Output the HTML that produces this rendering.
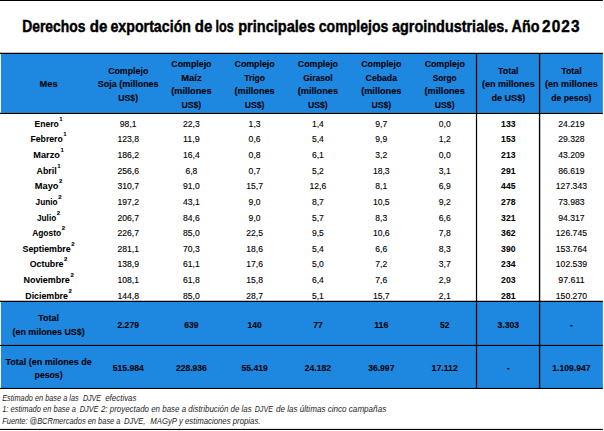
<!DOCTYPE html>
<html lang="es"><head><meta charset="utf-8"><title>Derechos de exportación</title>
<style>
html,body{margin:0;padding:0;background:#fff;}
body{width:604px;height:431px;overflow:hidden;}
svg{display:block;font-family:"Liberation Sans",sans-serif;}
</style></head><body>
<svg width="604" height="431" viewBox="0 0 604 431">
<rect x="0" y="0" width="604" height="431" fill="#fff"/>
<rect x="1.00" y="54.00" width="601.86" height="58.80" fill="#1e88e0"/>
<rect x="1.00" y="302.00" width="601.86" height="86.00" fill="#1e88e0"/>
<rect x="0.00" y="0.00" width="602.86" height="1.00" fill="#000"/>
<rect x="0.00" y="52.75" width="602.86" height="1.25" fill="#000"/>
<rect x="0.00" y="112.75" width="602.86" height="1.25" fill="#000"/>
<rect x="0.00" y="300.75" width="602.86" height="1.25" fill="#000"/>
<rect x="0.00" y="344.90" width="602.86" height="1.10" fill="#000"/>
<rect x="0.00" y="387.90" width="602.86" height="1.10" fill="#000"/>
<rect x="0.00" y="428.90" width="602.86" height="1.10" fill="#000"/>
<rect x="475.90" y="53.00" width="1.22" height="336.00" fill="#000"/>
<rect x="538.90" y="53.00" width="1.35" height="336.00" fill="#000"/>
<text y="32" font-size="17.1" font-weight="bold" fill="#000" stroke="#000" stroke-width="0.45"><tspan x="22.20" textLength="63.30" lengthAdjust="spacingAndGlyphs">Derechos</tspan> <tspan x="89.70" textLength="17.60" lengthAdjust="spacingAndGlyphs">de</tspan> <tspan x="110.45" textLength="80.55" lengthAdjust="spacingAndGlyphs">exportación</tspan> <tspan x="194.75" textLength="17.50" lengthAdjust="spacingAndGlyphs">de</tspan> <tspan x="215.40" textLength="18.30" lengthAdjust="spacingAndGlyphs">los</tspan> <tspan x="238.20" textLength="76.85" lengthAdjust="spacingAndGlyphs">principales</tspan> <tspan x="318.80" textLength="69.50" lengthAdjust="spacingAndGlyphs">complejos</tspan> <tspan x="392.05" textLength="116.15" lengthAdjust="spacingAndGlyphs">agroindustriales.</tspan> <tspan x="511.60" textLength="27.95" lengthAdjust="spacingAndGlyphs">Año</tspan></text>
<text transform="translate(542.0,32) scale(0.9,1)" font-size="17.1" font-weight="bold" fill="#000" stroke="#000" stroke-width="0.45" letter-spacing="1.25">2023</text>
<text x="48.60" y="87.00" font-size="9.13" font-weight="bold" text-anchor="middle" textLength="18.01" lengthAdjust="spacingAndGlyphs" fill="#000208" stroke="#000208" stroke-width="0.1">Mes</text>
<text x="128.20" y="74.00" font-size="9.13" font-weight="bold" text-anchor="middle" textLength="40.14" lengthAdjust="spacingAndGlyphs" fill="#000208" stroke="#000208" stroke-width="0.1">Complejo</text>
<text x="128.20" y="87.00" font-size="9.13" font-weight="bold" text-anchor="middle" textLength="60.83" lengthAdjust="spacingAndGlyphs" fill="#000208" stroke="#000208" stroke-width="0.1">Soja (millones</text>
<text x="128.20" y="101.00" font-size="9.13" font-weight="bold" text-anchor="middle" textLength="19.71" lengthAdjust="spacingAndGlyphs" fill="#000208" stroke="#000208" stroke-width="0.1">US$)</text>
<text x="191.40" y="67.00" font-size="9.13" font-weight="bold" text-anchor="middle" textLength="40.14" lengthAdjust="spacingAndGlyphs" fill="#000208" stroke="#000208" stroke-width="0.1">Complejo</text>
<text x="191.40" y="81.00" font-size="9.13" font-weight="bold" text-anchor="middle" textLength="20.39" lengthAdjust="spacingAndGlyphs" fill="#000208" stroke="#000208" stroke-width="0.1">Maíz</text>
<text x="191.40" y="94.00" font-size="9.13" font-weight="bold" text-anchor="middle" textLength="40.28" lengthAdjust="spacingAndGlyphs" fill="#000208" stroke="#000208" stroke-width="0.1">(millones</text>
<text x="191.40" y="108.00" font-size="9.13" font-weight="bold" text-anchor="middle" textLength="19.71" lengthAdjust="spacingAndGlyphs" fill="#000208" stroke="#000208" stroke-width="0.1">US$)</text>
<text x="254.60" y="67.00" font-size="9.13" font-weight="bold" text-anchor="middle" textLength="40.14" lengthAdjust="spacingAndGlyphs" fill="#000208" stroke="#000208" stroke-width="0.1">Complejo</text>
<text x="254.60" y="81.00" font-size="9.13" font-weight="bold" text-anchor="middle" textLength="20.76" lengthAdjust="spacingAndGlyphs" fill="#000208" stroke="#000208" stroke-width="0.1">Trigo</text>
<text x="254.60" y="94.00" font-size="9.13" font-weight="bold" text-anchor="middle" textLength="40.28" lengthAdjust="spacingAndGlyphs" fill="#000208" stroke="#000208" stroke-width="0.1">(millones</text>
<text x="254.60" y="108.00" font-size="9.13" font-weight="bold" text-anchor="middle" textLength="19.71" lengthAdjust="spacingAndGlyphs" fill="#000208" stroke="#000208" stroke-width="0.1">US$)</text>
<text x="317.90" y="67.00" font-size="9.13" font-weight="bold" text-anchor="middle" textLength="40.14" lengthAdjust="spacingAndGlyphs" fill="#000208" stroke="#000208" stroke-width="0.1">Complejo</text>
<text x="317.90" y="81.00" font-size="9.13" font-weight="bold" text-anchor="middle" textLength="29.33" lengthAdjust="spacingAndGlyphs" fill="#000208" stroke="#000208" stroke-width="0.1">Girasol</text>
<text x="317.90" y="94.00" font-size="9.13" font-weight="bold" text-anchor="middle" textLength="40.28" lengthAdjust="spacingAndGlyphs" fill="#000208" stroke="#000208" stroke-width="0.1">(millones</text>
<text x="317.90" y="108.00" font-size="9.13" font-weight="bold" text-anchor="middle" textLength="19.71" lengthAdjust="spacingAndGlyphs" fill="#000208" stroke="#000208" stroke-width="0.1">US$)</text>
<text x="381.30" y="67.00" font-size="9.13" font-weight="bold" text-anchor="middle" textLength="40.14" lengthAdjust="spacingAndGlyphs" fill="#000208" stroke="#000208" stroke-width="0.1">Complejo</text>
<text x="381.30" y="81.00" font-size="9.13" font-weight="bold" text-anchor="middle" textLength="31.37" lengthAdjust="spacingAndGlyphs" fill="#000208" stroke="#000208" stroke-width="0.1">Cebada</text>
<text x="381.30" y="94.00" font-size="9.13" font-weight="bold" text-anchor="middle" textLength="40.28" lengthAdjust="spacingAndGlyphs" fill="#000208" stroke="#000208" stroke-width="0.1">(millones</text>
<text x="381.30" y="108.00" font-size="9.13" font-weight="bold" text-anchor="middle" textLength="19.71" lengthAdjust="spacingAndGlyphs" fill="#000208" stroke="#000208" stroke-width="0.1">US$)</text>
<text x="444.70" y="67.00" font-size="9.13" font-weight="bold" text-anchor="middle" textLength="40.14" lengthAdjust="spacingAndGlyphs" fill="#000208" stroke="#000208" stroke-width="0.1">Complejo</text>
<text x="444.70" y="81.00" font-size="9.13" font-weight="bold" text-anchor="middle" textLength="23.89" lengthAdjust="spacingAndGlyphs" fill="#000208" stroke="#000208" stroke-width="0.1">Sorgo</text>
<text x="444.70" y="94.00" font-size="9.13" font-weight="bold" text-anchor="middle" textLength="40.28" lengthAdjust="spacingAndGlyphs" fill="#000208" stroke="#000208" stroke-width="0.1">(millones</text>
<text x="444.70" y="108.00" font-size="9.13" font-weight="bold" text-anchor="middle" textLength="19.71" lengthAdjust="spacingAndGlyphs" fill="#000208" stroke="#000208" stroke-width="0.1">US$)</text>
<text x="508.30" y="74.00" font-size="9.13" font-weight="bold" text-anchor="middle" textLength="20.51" lengthAdjust="spacingAndGlyphs" fill="#000208" stroke="#000208" stroke-width="0.1">Total</text>
<text x="508.30" y="87.00" font-size="9.13" font-weight="bold" text-anchor="middle" textLength="52.80" lengthAdjust="spacingAndGlyphs" fill="#000208" stroke="#000208" stroke-width="0.1">(en millones</text>
<text x="508.30" y="101.00" font-size="9.13" font-weight="bold" text-anchor="middle" textLength="33.85" lengthAdjust="spacingAndGlyphs" fill="#000208" stroke="#000208" stroke-width="0.1">de US$)</text>
<text x="571.40" y="74.00" font-size="9.13" font-weight="bold" text-anchor="middle" textLength="20.51" lengthAdjust="spacingAndGlyphs" fill="#000208" stroke="#000208" stroke-width="0.1">Total</text>
<text x="571.40" y="87.00" font-size="9.13" font-weight="bold" text-anchor="middle" textLength="52.80" lengthAdjust="spacingAndGlyphs" fill="#000208" stroke="#000208" stroke-width="0.1">(en millones</text>
<text x="571.40" y="101.00" font-size="9.13" font-weight="bold" text-anchor="middle" textLength="40.09" lengthAdjust="spacingAndGlyphs" fill="#000208" stroke="#000208" stroke-width="0.1">de pesos)</text>
<text x="34.51" y="127.00" font-size="8.42" font-weight="bold" text-anchor="start" textLength="24.24" lengthAdjust="spacingAndGlyphs" fill="#000" stroke="#000" stroke-width="0.06">Enero</text>
<text x="59.35" y="121.00" font-size="5.94" font-weight="bold" text-anchor="start" textLength="3.35" lengthAdjust="spacingAndGlyphs" fill="#000" stroke="#000" stroke-width="0.06">1</text>
<text x="128.20" y="127.00" font-size="8.42" font-weight="normal" text-anchor="middle" textLength="16.73" lengthAdjust="spacingAndGlyphs" fill="#000" stroke="#000" stroke-width="0.12">98,1</text>
<text x="191.40" y="127.00" font-size="8.42" font-weight="normal" text-anchor="middle" textLength="16.73" lengthAdjust="spacingAndGlyphs" fill="#000" stroke="#000" stroke-width="0.12">22,3</text>
<text x="254.60" y="127.00" font-size="8.42" font-weight="normal" text-anchor="middle" textLength="11.94" lengthAdjust="spacingAndGlyphs" fill="#000" stroke="#000" stroke-width="0.12">1,3</text>
<text x="317.90" y="127.00" font-size="8.42" font-weight="normal" text-anchor="middle" textLength="11.94" lengthAdjust="spacingAndGlyphs" fill="#000" stroke="#000" stroke-width="0.12">1,4</text>
<text x="381.30" y="127.00" font-size="8.42" font-weight="normal" text-anchor="middle" textLength="11.94" lengthAdjust="spacingAndGlyphs" fill="#000" stroke="#000" stroke-width="0.12">9,7</text>
<text x="444.70" y="127.00" font-size="8.42" font-weight="normal" text-anchor="middle" textLength="11.94" lengthAdjust="spacingAndGlyphs" fill="#000" stroke="#000" stroke-width="0.12">0,0</text>
<text x="508.30" y="127.00" font-size="8.42" font-weight="bold" text-anchor="middle" textLength="14.38" lengthAdjust="spacingAndGlyphs" fill="#000" stroke="#000" stroke-width="0.06">133</text>
<text x="571.40" y="127.00" font-size="8.42" font-weight="normal" text-anchor="middle" textLength="26.35" lengthAdjust="spacingAndGlyphs" fill="#000" stroke="#000" stroke-width="0.12">24.219</text>
<text x="30.46" y="142.00" font-size="8.42" font-weight="bold" text-anchor="start" textLength="32.33" lengthAdjust="spacingAndGlyphs" fill="#000" stroke="#000" stroke-width="0.06">Febrero</text>
<text x="63.39" y="136.00" font-size="5.94" font-weight="bold" text-anchor="start" textLength="3.35" lengthAdjust="spacingAndGlyphs" fill="#000" stroke="#000" stroke-width="0.06">1</text>
<text x="128.20" y="142.00" font-size="8.42" font-weight="normal" text-anchor="middle" textLength="21.53" lengthAdjust="spacingAndGlyphs" fill="#000" stroke="#000" stroke-width="0.12">123,8</text>
<text x="191.40" y="142.00" font-size="8.42" font-weight="normal" text-anchor="middle" textLength="16.73" lengthAdjust="spacingAndGlyphs" fill="#000" stroke="#000" stroke-width="0.12">11,9</text>
<text x="254.60" y="142.00" font-size="8.42" font-weight="normal" text-anchor="middle" textLength="11.94" lengthAdjust="spacingAndGlyphs" fill="#000" stroke="#000" stroke-width="0.12">0,6</text>
<text x="317.90" y="142.00" font-size="8.42" font-weight="normal" text-anchor="middle" textLength="11.94" lengthAdjust="spacingAndGlyphs" fill="#000" stroke="#000" stroke-width="0.12">5,4</text>
<text x="381.30" y="142.00" font-size="8.42" font-weight="normal" text-anchor="middle" textLength="11.94" lengthAdjust="spacingAndGlyphs" fill="#000" stroke="#000" stroke-width="0.12">9,9</text>
<text x="444.70" y="142.00" font-size="8.42" font-weight="normal" text-anchor="middle" textLength="11.94" lengthAdjust="spacingAndGlyphs" fill="#000" stroke="#000" stroke-width="0.12">1,2</text>
<text x="508.30" y="142.00" font-size="8.42" font-weight="bold" text-anchor="middle" textLength="14.38" lengthAdjust="spacingAndGlyphs" fill="#000" stroke="#000" stroke-width="0.06">153</text>
<text x="571.40" y="142.00" font-size="8.42" font-weight="normal" text-anchor="middle" textLength="26.35" lengthAdjust="spacingAndGlyphs" fill="#000" stroke="#000" stroke-width="0.12">29.328</text>
<text x="33.34" y="158.00" font-size="8.42" font-weight="bold" text-anchor="start" textLength="26.58" lengthAdjust="spacingAndGlyphs" fill="#000" stroke="#000" stroke-width="0.06">Marzo</text>
<text x="60.52" y="152.00" font-size="5.94" font-weight="bold" text-anchor="start" textLength="3.35" lengthAdjust="spacingAndGlyphs" fill="#000" stroke="#000" stroke-width="0.06">1</text>
<text x="128.20" y="158.00" font-size="8.42" font-weight="normal" text-anchor="middle" textLength="21.53" lengthAdjust="spacingAndGlyphs" fill="#000" stroke="#000" stroke-width="0.12">186,2</text>
<text x="191.40" y="158.00" font-size="8.42" font-weight="normal" text-anchor="middle" textLength="16.73" lengthAdjust="spacingAndGlyphs" fill="#000" stroke="#000" stroke-width="0.12">16,4</text>
<text x="254.60" y="158.00" font-size="8.42" font-weight="normal" text-anchor="middle" textLength="11.94" lengthAdjust="spacingAndGlyphs" fill="#000" stroke="#000" stroke-width="0.12">0,8</text>
<text x="317.90" y="158.00" font-size="8.42" font-weight="normal" text-anchor="middle" textLength="11.94" lengthAdjust="spacingAndGlyphs" fill="#000" stroke="#000" stroke-width="0.12">6,1</text>
<text x="381.30" y="158.00" font-size="8.42" font-weight="normal" text-anchor="middle" textLength="11.94" lengthAdjust="spacingAndGlyphs" fill="#000" stroke="#000" stroke-width="0.12">3,2</text>
<text x="444.70" y="158.00" font-size="8.42" font-weight="normal" text-anchor="middle" textLength="11.94" lengthAdjust="spacingAndGlyphs" fill="#000" stroke="#000" stroke-width="0.12">0,0</text>
<text x="508.30" y="158.00" font-size="8.42" font-weight="bold" text-anchor="middle" textLength="14.38" lengthAdjust="spacingAndGlyphs" fill="#000" stroke="#000" stroke-width="0.06">213</text>
<text x="571.40" y="158.00" font-size="8.42" font-weight="normal" text-anchor="middle" textLength="26.35" lengthAdjust="spacingAndGlyphs" fill="#000" stroke="#000" stroke-width="0.12">43.209</text>
<text x="36.62" y="174.00" font-size="8.42" font-weight="bold" text-anchor="start" textLength="20.02" lengthAdjust="spacingAndGlyphs" fill="#000" stroke="#000" stroke-width="0.06">Abril</text>
<text x="57.24" y="168.00" font-size="5.94" font-weight="bold" text-anchor="start" textLength="3.35" lengthAdjust="spacingAndGlyphs" fill="#000" stroke="#000" stroke-width="0.06">1</text>
<text x="128.20" y="174.00" font-size="8.42" font-weight="normal" text-anchor="middle" textLength="21.53" lengthAdjust="spacingAndGlyphs" fill="#000" stroke="#000" stroke-width="0.12">256,6</text>
<text x="191.40" y="174.00" font-size="8.42" font-weight="normal" text-anchor="middle" textLength="11.94" lengthAdjust="spacingAndGlyphs" fill="#000" stroke="#000" stroke-width="0.12">6,8</text>
<text x="254.60" y="174.00" font-size="8.42" font-weight="normal" text-anchor="middle" textLength="11.94" lengthAdjust="spacingAndGlyphs" fill="#000" stroke="#000" stroke-width="0.12">0,7</text>
<text x="317.90" y="174.00" font-size="8.42" font-weight="normal" text-anchor="middle" textLength="11.94" lengthAdjust="spacingAndGlyphs" fill="#000" stroke="#000" stroke-width="0.12">5,2</text>
<text x="381.30" y="174.00" font-size="8.42" font-weight="normal" text-anchor="middle" textLength="16.73" lengthAdjust="spacingAndGlyphs" fill="#000" stroke="#000" stroke-width="0.12">18,3</text>
<text x="444.70" y="174.00" font-size="8.42" font-weight="normal" text-anchor="middle" textLength="11.94" lengthAdjust="spacingAndGlyphs" fill="#000" stroke="#000" stroke-width="0.12">3,1</text>
<text x="508.30" y="174.00" font-size="8.42" font-weight="bold" text-anchor="middle" textLength="14.38" lengthAdjust="spacingAndGlyphs" fill="#000" stroke="#000" stroke-width="0.06">291</text>
<text x="571.40" y="174.00" font-size="8.42" font-weight="normal" text-anchor="middle" textLength="26.35" lengthAdjust="spacingAndGlyphs" fill="#000" stroke="#000" stroke-width="0.12">86.619</text>
<text x="34.80" y="189.00" font-size="8.42" font-weight="bold" text-anchor="start" textLength="23.65" lengthAdjust="spacingAndGlyphs" fill="#000" stroke="#000" stroke-width="0.06">Mayo</text>
<text x="59.05" y="183.00" font-size="5.94" font-weight="bold" text-anchor="start" textLength="3.35" lengthAdjust="spacingAndGlyphs" fill="#000" stroke="#000" stroke-width="0.06">2</text>
<text x="128.20" y="189.00" font-size="8.42" font-weight="normal" text-anchor="middle" textLength="21.53" lengthAdjust="spacingAndGlyphs" fill="#000" stroke="#000" stroke-width="0.12">310,7</text>
<text x="191.40" y="189.00" font-size="8.42" font-weight="normal" text-anchor="middle" textLength="16.73" lengthAdjust="spacingAndGlyphs" fill="#000" stroke="#000" stroke-width="0.12">91,0</text>
<text x="254.60" y="189.00" font-size="8.42" font-weight="normal" text-anchor="middle" textLength="16.73" lengthAdjust="spacingAndGlyphs" fill="#000" stroke="#000" stroke-width="0.12">15,7</text>
<text x="317.90" y="189.00" font-size="8.42" font-weight="normal" text-anchor="middle" textLength="16.73" lengthAdjust="spacingAndGlyphs" fill="#000" stroke="#000" stroke-width="0.12">12,6</text>
<text x="381.30" y="189.00" font-size="8.42" font-weight="normal" text-anchor="middle" textLength="11.94" lengthAdjust="spacingAndGlyphs" fill="#000" stroke="#000" stroke-width="0.12">8,1</text>
<text x="444.70" y="189.00" font-size="8.42" font-weight="normal" text-anchor="middle" textLength="11.94" lengthAdjust="spacingAndGlyphs" fill="#000" stroke="#000" stroke-width="0.12">6,9</text>
<text x="508.30" y="189.00" font-size="8.42" font-weight="bold" text-anchor="middle" textLength="14.38" lengthAdjust="spacingAndGlyphs" fill="#000" stroke="#000" stroke-width="0.06">445</text>
<text x="571.40" y="189.00" font-size="8.42" font-weight="normal" text-anchor="middle" textLength="31.14" lengthAdjust="spacingAndGlyphs" fill="#000" stroke="#000" stroke-width="0.12">127.343</text>
<text x="35.62" y="205.00" font-size="8.42" font-weight="bold" text-anchor="start" textLength="22.01" lengthAdjust="spacingAndGlyphs" fill="#000" stroke="#000" stroke-width="0.06">Junio</text>
<text x="58.23" y="199.00" font-size="5.94" font-weight="bold" text-anchor="start" textLength="3.35" lengthAdjust="spacingAndGlyphs" fill="#000" stroke="#000" stroke-width="0.06">2</text>
<text x="128.20" y="205.00" font-size="8.42" font-weight="normal" text-anchor="middle" textLength="21.53" lengthAdjust="spacingAndGlyphs" fill="#000" stroke="#000" stroke-width="0.12">197,2</text>
<text x="191.40" y="205.00" font-size="8.42" font-weight="normal" text-anchor="middle" textLength="16.73" lengthAdjust="spacingAndGlyphs" fill="#000" stroke="#000" stroke-width="0.12">43,1</text>
<text x="254.60" y="205.00" font-size="8.42" font-weight="normal" text-anchor="middle" textLength="11.94" lengthAdjust="spacingAndGlyphs" fill="#000" stroke="#000" stroke-width="0.12">9,0</text>
<text x="317.90" y="205.00" font-size="8.42" font-weight="normal" text-anchor="middle" textLength="11.94" lengthAdjust="spacingAndGlyphs" fill="#000" stroke="#000" stroke-width="0.12">8,7</text>
<text x="381.30" y="205.00" font-size="8.42" font-weight="normal" text-anchor="middle" textLength="16.73" lengthAdjust="spacingAndGlyphs" fill="#000" stroke="#000" stroke-width="0.12">10,5</text>
<text x="444.70" y="205.00" font-size="8.42" font-weight="normal" text-anchor="middle" textLength="11.94" lengthAdjust="spacingAndGlyphs" fill="#000" stroke="#000" stroke-width="0.12">9,2</text>
<text x="508.30" y="205.00" font-size="8.42" font-weight="bold" text-anchor="middle" textLength="14.38" lengthAdjust="spacingAndGlyphs" fill="#000" stroke="#000" stroke-width="0.06">278</text>
<text x="571.40" y="205.00" font-size="8.42" font-weight="normal" text-anchor="middle" textLength="26.35" lengthAdjust="spacingAndGlyphs" fill="#000" stroke="#000" stroke-width="0.12">73.983</text>
<text x="37.09" y="221.00" font-size="8.42" font-weight="bold" text-anchor="start" textLength="19.08" lengthAdjust="spacingAndGlyphs" fill="#000" stroke="#000" stroke-width="0.06">Julio</text>
<text x="56.77" y="215.00" font-size="5.94" font-weight="bold" text-anchor="start" textLength="3.35" lengthAdjust="spacingAndGlyphs" fill="#000" stroke="#000" stroke-width="0.06">2</text>
<text x="128.20" y="221.00" font-size="8.42" font-weight="normal" text-anchor="middle" textLength="21.53" lengthAdjust="spacingAndGlyphs" fill="#000" stroke="#000" stroke-width="0.12">206,7</text>
<text x="191.40" y="221.00" font-size="8.42" font-weight="normal" text-anchor="middle" textLength="16.73" lengthAdjust="spacingAndGlyphs" fill="#000" stroke="#000" stroke-width="0.12">84,6</text>
<text x="254.60" y="221.00" font-size="8.42" font-weight="normal" text-anchor="middle" textLength="11.94" lengthAdjust="spacingAndGlyphs" fill="#000" stroke="#000" stroke-width="0.12">9,0</text>
<text x="317.90" y="221.00" font-size="8.42" font-weight="normal" text-anchor="middle" textLength="11.94" lengthAdjust="spacingAndGlyphs" fill="#000" stroke="#000" stroke-width="0.12">5,7</text>
<text x="381.30" y="221.00" font-size="8.42" font-weight="normal" text-anchor="middle" textLength="11.94" lengthAdjust="spacingAndGlyphs" fill="#000" stroke="#000" stroke-width="0.12">8,3</text>
<text x="444.70" y="221.00" font-size="8.42" font-weight="normal" text-anchor="middle" textLength="11.94" lengthAdjust="spacingAndGlyphs" fill="#000" stroke="#000" stroke-width="0.12">6,6</text>
<text x="508.30" y="221.00" font-size="8.42" font-weight="bold" text-anchor="middle" textLength="14.38" lengthAdjust="spacingAndGlyphs" fill="#000" stroke="#000" stroke-width="0.06">321</text>
<text x="571.40" y="221.00" font-size="8.42" font-weight="normal" text-anchor="middle" textLength="26.35" lengthAdjust="spacingAndGlyphs" fill="#000" stroke="#000" stroke-width="0.12">94.317</text>
<text x="32.19" y="236.00" font-size="8.42" font-weight="bold" text-anchor="start" textLength="28.88" lengthAdjust="spacingAndGlyphs" fill="#000" stroke="#000" stroke-width="0.06">Agosto</text>
<text x="61.67" y="230.00" font-size="5.94" font-weight="bold" text-anchor="start" textLength="3.35" lengthAdjust="spacingAndGlyphs" fill="#000" stroke="#000" stroke-width="0.06">2</text>
<text x="128.20" y="236.00" font-size="8.42" font-weight="normal" text-anchor="middle" textLength="21.53" lengthAdjust="spacingAndGlyphs" fill="#000" stroke="#000" stroke-width="0.12">226,7</text>
<text x="191.40" y="236.00" font-size="8.42" font-weight="normal" text-anchor="middle" textLength="16.73" lengthAdjust="spacingAndGlyphs" fill="#000" stroke="#000" stroke-width="0.12">85,0</text>
<text x="254.60" y="236.00" font-size="8.42" font-weight="normal" text-anchor="middle" textLength="16.73" lengthAdjust="spacingAndGlyphs" fill="#000" stroke="#000" stroke-width="0.12">22,5</text>
<text x="317.90" y="236.00" font-size="8.42" font-weight="normal" text-anchor="middle" textLength="11.94" lengthAdjust="spacingAndGlyphs" fill="#000" stroke="#000" stroke-width="0.12">9,5</text>
<text x="381.30" y="236.00" font-size="8.42" font-weight="normal" text-anchor="middle" textLength="16.73" lengthAdjust="spacingAndGlyphs" fill="#000" stroke="#000" stroke-width="0.12">10,6</text>
<text x="444.70" y="236.00" font-size="8.42" font-weight="normal" text-anchor="middle" textLength="11.94" lengthAdjust="spacingAndGlyphs" fill="#000" stroke="#000" stroke-width="0.12">7,8</text>
<text x="508.30" y="236.00" font-size="8.42" font-weight="bold" text-anchor="middle" textLength="14.38" lengthAdjust="spacingAndGlyphs" fill="#000" stroke="#000" stroke-width="0.06">362</text>
<text x="571.40" y="236.00" font-size="8.42" font-weight="normal" text-anchor="middle" textLength="31.14" lengthAdjust="spacingAndGlyphs" fill="#000" stroke="#000" stroke-width="0.12">126.745</text>
<text x="22.50" y="252.00" font-size="8.42" font-weight="bold" text-anchor="start" textLength="48.25" lengthAdjust="spacingAndGlyphs" fill="#000" stroke="#000" stroke-width="0.06">Septiembre</text>
<text x="71.35" y="246.00" font-size="5.94" font-weight="bold" text-anchor="start" textLength="3.35" lengthAdjust="spacingAndGlyphs" fill="#000" stroke="#000" stroke-width="0.06">2</text>
<text x="128.20" y="252.00" font-size="8.42" font-weight="normal" text-anchor="middle" textLength="21.53" lengthAdjust="spacingAndGlyphs" fill="#000" stroke="#000" stroke-width="0.12">281,1</text>
<text x="191.40" y="252.00" font-size="8.42" font-weight="normal" text-anchor="middle" textLength="16.73" lengthAdjust="spacingAndGlyphs" fill="#000" stroke="#000" stroke-width="0.12">70,3</text>
<text x="254.60" y="252.00" font-size="8.42" font-weight="normal" text-anchor="middle" textLength="16.73" lengthAdjust="spacingAndGlyphs" fill="#000" stroke="#000" stroke-width="0.12">18,6</text>
<text x="317.90" y="252.00" font-size="8.42" font-weight="normal" text-anchor="middle" textLength="11.94" lengthAdjust="spacingAndGlyphs" fill="#000" stroke="#000" stroke-width="0.12">5,4</text>
<text x="381.30" y="252.00" font-size="8.42" font-weight="normal" text-anchor="middle" textLength="11.94" lengthAdjust="spacingAndGlyphs" fill="#000" stroke="#000" stroke-width="0.12">6,6</text>
<text x="444.70" y="252.00" font-size="8.42" font-weight="normal" text-anchor="middle" textLength="11.94" lengthAdjust="spacingAndGlyphs" fill="#000" stroke="#000" stroke-width="0.12">8,3</text>
<text x="508.30" y="252.00" font-size="8.42" font-weight="bold" text-anchor="middle" textLength="14.38" lengthAdjust="spacingAndGlyphs" fill="#000" stroke="#000" stroke-width="0.06">390</text>
<text x="571.40" y="252.00" font-size="8.42" font-weight="normal" text-anchor="middle" textLength="31.14" lengthAdjust="spacingAndGlyphs" fill="#000" stroke="#000" stroke-width="0.12">153.764</text>
<text x="29.71" y="267.00" font-size="8.42" font-weight="bold" text-anchor="start" textLength="33.83" lengthAdjust="spacingAndGlyphs" fill="#000" stroke="#000" stroke-width="0.06">Octubre</text>
<text x="64.14" y="261.00" font-size="5.94" font-weight="bold" text-anchor="start" textLength="3.35" lengthAdjust="spacingAndGlyphs" fill="#000" stroke="#000" stroke-width="0.06">2</text>
<text x="128.20" y="267.00" font-size="8.42" font-weight="normal" text-anchor="middle" textLength="21.53" lengthAdjust="spacingAndGlyphs" fill="#000" stroke="#000" stroke-width="0.12">138,9</text>
<text x="191.40" y="267.00" font-size="8.42" font-weight="normal" text-anchor="middle" textLength="16.73" lengthAdjust="spacingAndGlyphs" fill="#000" stroke="#000" stroke-width="0.12">61,1</text>
<text x="254.60" y="267.00" font-size="8.42" font-weight="normal" text-anchor="middle" textLength="16.73" lengthAdjust="spacingAndGlyphs" fill="#000" stroke="#000" stroke-width="0.12">17,6</text>
<text x="317.90" y="267.00" font-size="8.42" font-weight="normal" text-anchor="middle" textLength="11.94" lengthAdjust="spacingAndGlyphs" fill="#000" stroke="#000" stroke-width="0.12">5,0</text>
<text x="381.30" y="267.00" font-size="8.42" font-weight="normal" text-anchor="middle" textLength="11.94" lengthAdjust="spacingAndGlyphs" fill="#000" stroke="#000" stroke-width="0.12">7,2</text>
<text x="444.70" y="267.00" font-size="8.42" font-weight="normal" text-anchor="middle" textLength="11.94" lengthAdjust="spacingAndGlyphs" fill="#000" stroke="#000" stroke-width="0.12">3,7</text>
<text x="508.30" y="267.00" font-size="8.42" font-weight="bold" text-anchor="middle" textLength="14.38" lengthAdjust="spacingAndGlyphs" fill="#000" stroke="#000" stroke-width="0.06">234</text>
<text x="571.40" y="267.00" font-size="8.42" font-weight="normal" text-anchor="middle" textLength="31.14" lengthAdjust="spacingAndGlyphs" fill="#000" stroke="#000" stroke-width="0.12">102.539</text>
<text x="23.42" y="283.00" font-size="8.42" font-weight="bold" text-anchor="start" textLength="46.42" lengthAdjust="spacingAndGlyphs" fill="#000" stroke="#000" stroke-width="0.06">Noviembre</text>
<text x="70.44" y="277.00" font-size="5.94" font-weight="bold" text-anchor="start" textLength="3.35" lengthAdjust="spacingAndGlyphs" fill="#000" stroke="#000" stroke-width="0.06">2</text>
<text x="128.20" y="283.00" font-size="8.42" font-weight="normal" text-anchor="middle" textLength="21.53" lengthAdjust="spacingAndGlyphs" fill="#000" stroke="#000" stroke-width="0.12">108,1</text>
<text x="191.40" y="283.00" font-size="8.42" font-weight="normal" text-anchor="middle" textLength="16.73" lengthAdjust="spacingAndGlyphs" fill="#000" stroke="#000" stroke-width="0.12">61,8</text>
<text x="254.60" y="283.00" font-size="8.42" font-weight="normal" text-anchor="middle" textLength="16.73" lengthAdjust="spacingAndGlyphs" fill="#000" stroke="#000" stroke-width="0.12">15,8</text>
<text x="317.90" y="283.00" font-size="8.42" font-weight="normal" text-anchor="middle" textLength="11.94" lengthAdjust="spacingAndGlyphs" fill="#000" stroke="#000" stroke-width="0.12">6,4</text>
<text x="381.30" y="283.00" font-size="8.42" font-weight="normal" text-anchor="middle" textLength="11.94" lengthAdjust="spacingAndGlyphs" fill="#000" stroke="#000" stroke-width="0.12">7,6</text>
<text x="444.70" y="283.00" font-size="8.42" font-weight="normal" text-anchor="middle" textLength="11.94" lengthAdjust="spacingAndGlyphs" fill="#000" stroke="#000" stroke-width="0.12">2,9</text>
<text x="508.30" y="283.00" font-size="8.42" font-weight="bold" text-anchor="middle" textLength="14.38" lengthAdjust="spacingAndGlyphs" fill="#000" stroke="#000" stroke-width="0.06">203</text>
<text x="571.40" y="283.00" font-size="8.42" font-weight="normal" text-anchor="middle" textLength="26.35" lengthAdjust="spacingAndGlyphs" fill="#000" stroke="#000" stroke-width="0.12">97.611</text>
<text x="25.29" y="299.00" font-size="8.42" font-weight="bold" text-anchor="start" textLength="42.68" lengthAdjust="spacingAndGlyphs" fill="#000" stroke="#000" stroke-width="0.06">Diciembre</text>
<text x="68.57" y="293.00" font-size="5.94" font-weight="bold" text-anchor="start" textLength="3.35" lengthAdjust="spacingAndGlyphs" fill="#000" stroke="#000" stroke-width="0.06">2</text>
<text x="128.20" y="299.00" font-size="8.42" font-weight="normal" text-anchor="middle" textLength="21.53" lengthAdjust="spacingAndGlyphs" fill="#000" stroke="#000" stroke-width="0.12">144,8</text>
<text x="191.40" y="299.00" font-size="8.42" font-weight="normal" text-anchor="middle" textLength="16.73" lengthAdjust="spacingAndGlyphs" fill="#000" stroke="#000" stroke-width="0.12">85,0</text>
<text x="254.60" y="299.00" font-size="8.42" font-weight="normal" text-anchor="middle" textLength="16.73" lengthAdjust="spacingAndGlyphs" fill="#000" stroke="#000" stroke-width="0.12">28,7</text>
<text x="317.90" y="299.00" font-size="8.42" font-weight="normal" text-anchor="middle" textLength="11.94" lengthAdjust="spacingAndGlyphs" fill="#000" stroke="#000" stroke-width="0.12">5,1</text>
<text x="381.30" y="299.00" font-size="8.42" font-weight="normal" text-anchor="middle" textLength="16.73" lengthAdjust="spacingAndGlyphs" fill="#000" stroke="#000" stroke-width="0.12">15,7</text>
<text x="444.70" y="299.00" font-size="8.42" font-weight="normal" text-anchor="middle" textLength="11.94" lengthAdjust="spacingAndGlyphs" fill="#000" stroke="#000" stroke-width="0.12">2,1</text>
<text x="508.30" y="299.00" font-size="8.42" font-weight="bold" text-anchor="middle" textLength="14.38" lengthAdjust="spacingAndGlyphs" fill="#000" stroke="#000" stroke-width="0.06">281</text>
<text x="571.40" y="299.00" font-size="8.42" font-weight="normal" text-anchor="middle" textLength="31.14" lengthAdjust="spacingAndGlyphs" fill="#000" stroke="#000" stroke-width="0.12">150.270</text>
<text x="48.60" y="321.00" font-size="9.13" font-weight="bold" text-anchor="middle" textLength="20.51" lengthAdjust="spacingAndGlyphs" fill="#000208" stroke="#000208" stroke-width="0.1">Total</text>
<text x="48.60" y="335.00" font-size="9.13" font-weight="bold" text-anchor="middle" textLength="72.13" lengthAdjust="spacingAndGlyphs" fill="#000208" stroke="#000208" stroke-width="0.1">(en milones US$)</text>
<text x="48.60" y="365.00" font-size="9.13" font-weight="bold" text-anchor="middle" textLength="86.35" lengthAdjust="spacingAndGlyphs" fill="#000208" stroke="#000208" stroke-width="0.1">Total (en milones de</text>
<text x="48.60" y="378.00" font-size="9.13" font-weight="bold" text-anchor="middle" textLength="28.06" lengthAdjust="spacingAndGlyphs" fill="#000208" stroke="#000208" stroke-width="0.1">pesos)</text>
<text x="128.20" y="328.00" font-size="8.42" font-weight="bold" text-anchor="middle" textLength="21.48" lengthAdjust="spacingAndGlyphs" fill="#000208" stroke="#000208" stroke-width="0.1">2.279</text>
<text x="191.40" y="328.00" font-size="8.42" font-weight="bold" text-anchor="middle" textLength="14.23" lengthAdjust="spacingAndGlyphs" fill="#000208" stroke="#000208" stroke-width="0.1">639</text>
<text x="254.60" y="328.00" font-size="8.42" font-weight="bold" text-anchor="middle" textLength="14.23" lengthAdjust="spacingAndGlyphs" fill="#000208" stroke="#000208" stroke-width="0.1">140</text>
<text x="317.90" y="328.00" font-size="8.42" font-weight="bold" text-anchor="middle" textLength="9.49" lengthAdjust="spacingAndGlyphs" fill="#000208" stroke="#000208" stroke-width="0.1">77</text>
<text x="381.30" y="328.00" font-size="8.42" font-weight="bold" text-anchor="middle" textLength="14.23" lengthAdjust="spacingAndGlyphs" fill="#000208" stroke="#000208" stroke-width="0.1">116</text>
<text x="444.70" y="328.00" font-size="8.42" font-weight="bold" text-anchor="middle" textLength="9.49" lengthAdjust="spacingAndGlyphs" fill="#000208" stroke="#000208" stroke-width="0.1">52</text>
<text x="508.30" y="328.00" font-size="8.42" font-weight="bold" text-anchor="middle" textLength="21.48" lengthAdjust="spacingAndGlyphs" fill="#000208" stroke="#000208" stroke-width="0.1">3.303</text>
<text x="571.40" y="328.00" font-size="8.42" font-weight="bold" text-anchor="middle" textLength="2.87" lengthAdjust="spacingAndGlyphs" fill="#000208" stroke="#000208" stroke-width="0.1">-</text>
<text x="128.20" y="371.00" font-size="8.42" font-weight="bold" text-anchor="middle" textLength="30.97" lengthAdjust="spacingAndGlyphs" fill="#000208" stroke="#000208" stroke-width="0.1">515.984</text>
<text x="191.40" y="371.00" font-size="8.42" font-weight="bold" text-anchor="middle" textLength="30.97" lengthAdjust="spacingAndGlyphs" fill="#000208" stroke="#000208" stroke-width="0.1">228.936</text>
<text x="254.60" y="371.00" font-size="8.42" font-weight="bold" text-anchor="middle" textLength="26.22" lengthAdjust="spacingAndGlyphs" fill="#000208" stroke="#000208" stroke-width="0.1">55.419</text>
<text x="317.90" y="371.00" font-size="8.42" font-weight="bold" text-anchor="middle" textLength="26.22" lengthAdjust="spacingAndGlyphs" fill="#000208" stroke="#000208" stroke-width="0.1">24.182</text>
<text x="381.30" y="371.00" font-size="8.42" font-weight="bold" text-anchor="middle" textLength="26.22" lengthAdjust="spacingAndGlyphs" fill="#000208" stroke="#000208" stroke-width="0.1">36.997</text>
<text x="444.70" y="371.00" font-size="8.42" font-weight="bold" text-anchor="middle" textLength="26.22" lengthAdjust="spacingAndGlyphs" fill="#000208" stroke="#000208" stroke-width="0.1">17.112</text>
<text x="508.30" y="371.00" font-size="8.42" font-weight="bold" text-anchor="middle" textLength="2.87" lengthAdjust="spacingAndGlyphs" fill="#000208" stroke="#000208" stroke-width="0.1">-</text>
<text x="571.40" y="371.00" font-size="8.42" font-weight="bold" text-anchor="middle" textLength="38.21" lengthAdjust="spacingAndGlyphs" fill="#000208" stroke="#000208" stroke-width="0.1">1.109.947</text>
<text y="401" font-size="8.15" font-style="italic" fill="#1c1c1c"><tspan x="2.20" textLength="76.50" lengthAdjust="spacingAndGlyphs">Estimado en base a las</tspan> <tspan x="82.90" textLength="18.20" lengthAdjust="spacingAndGlyphs">DJVE</tspan> <tspan x="105.20" textLength="31.30" lengthAdjust="spacingAndGlyphs">efectivas</tspan></text>
<text y="412" font-size="8.15" font-style="italic" fill="#1c1c1c"><tspan x="2.20" textLength="73.80" lengthAdjust="spacingAndGlyphs">1: estimado en base a</tspan> <tspan x="79.70" textLength="18.80" lengthAdjust="spacingAndGlyphs">DJVE</tspan> <tspan x="100.95" textLength="150.80" lengthAdjust="spacingAndGlyphs">2: proyectado en base a distribución de las</tspan> <tspan x="254.70" textLength="18.30" lengthAdjust="spacingAndGlyphs">DJVE</tspan> <tspan x="275.95" textLength="110.25" lengthAdjust="spacingAndGlyphs">de las últimas cinco campañas</tspan></text>
<text y="424" font-size="8.15" font-style="italic" fill="#1c1c1c"><tspan x="2.20" textLength="118.30" lengthAdjust="spacingAndGlyphs">Fuente: @BCRmercados en base a</tspan> <tspan x="123.95" textLength="21.55" lengthAdjust="spacingAndGlyphs">DJVE,</tspan> <tspan x="150.20" textLength="110.30" lengthAdjust="spacingAndGlyphs">MAGyP y estimaciones propias.</tspan></text>
</svg>
</body></html>
